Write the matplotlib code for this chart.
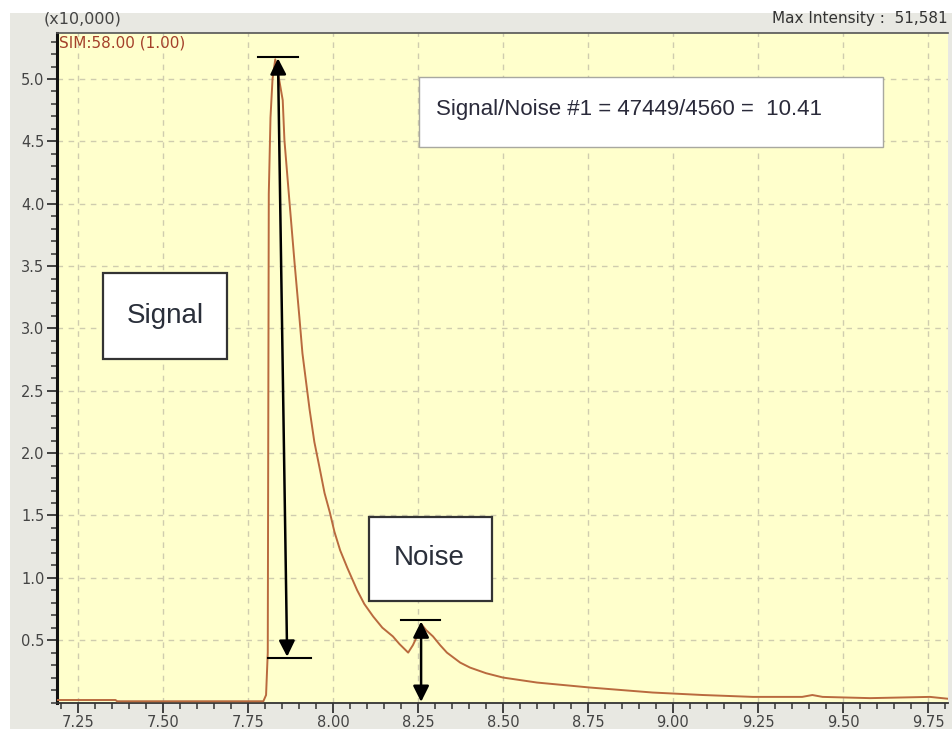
import matplotlib
matplotlib.use("Agg")
import matplotlib.pyplot as plt
from matplotlib.patches import Rectangle
from matplotlib.ticker import MultipleLocator, FixedLocator

# ---- data (retention time in min, intensity in x10,000 counts) ----
rt = [7.188, 7.36, 7.365, 7.795, 7.803, 7.808, 7.811, 7.816, 7.822, 7.830,
      7.838, 7.852, 7.857, 7.872, 7.887, 7.901, 7.910, 7.931, 7.945, 7.962,
      7.975, 7.991, 8.004, 8.021, 8.042, 8.071, 8.092, 8.118, 8.145, 8.176,
      8.195, 8.221, 8.235, 8.247, 8.259, 8.274, 8.294, 8.315, 8.335, 8.374,
      8.403, 8.45, 8.50, 8.60, 8.756, 8.94, 9.088, 9.235, 9.38,
      9.41, 9.44, 9.58, 9.756, 9.809]
intensity = [0.02, 0.02, 0.01, 0.01, 0.06, 0.40, 4.08, 4.69, 5.00, 5.158,
             5.05, 4.83, 4.51, 4.01, 3.52, 3.09, 2.80, 2.35, 2.09, 1.86,
             1.68, 1.52, 1.37, 1.22, 1.08, 0.90, 0.79, 0.69, 0.60, 0.53,
             0.47, 0.40, 0.46, 0.53, 0.63, 0.58, 0.53, 0.46, 0.40, 0.32,
             0.28, 0.235, 0.20, 0.16, 0.12, 0.08, 0.06, 0.045, 0.045,
             0.06, 0.045, 0.035, 0.045, 0.03]

x_major = [7.25, 7.50, 7.75, 8.00, 8.25, 8.50, 8.75, 9.00, 9.25, 9.50, 9.75]
x_labels = ["7.25", "7.50", "7.75", "8.00", "8.25", "8.50", "8.75", "9.00", "9.25", "9.50", "9.75"]
y_major = [0.5, 1.0, 1.5, 2.0, 2.5, 3.0, 3.5, 4.0, 4.5, 5.0]
y_labels = ["0.5", "1.0", "1.5", "2.0", "2.5", "3.0", "3.5", "4.0", "4.5", "5.0"]

# signal / noise measurement marks
signal_x = [7.838, 7.865]          # arrow top / bottom x
signal_y = [5.176, 0.357]          # top bar / bottom bar level
signal_bar_top = [7.779, 7.897]
signal_bar_bottom = [7.809, 7.935]
noise_x = 8.259
noise_y = [0.66, 0.0]
noise_bar = [8.200, 8.315]

header_left = "(x10,000)"
trace_label = "SIM:58.00 (1.00)"
header_right = "Max Intensity :  51,581"
sn_text = "Signal/Noise #1 = 47449/4560 =  10.41"

# ---- figure ----
W, H = 952, 729
fig = plt.figure(figsize=(W / 100, H / 100), dpi=100, facecolor="white")
fig.patches.append(Rectangle((10 / W, 0), 1 - 10 / W, 1 - 13 / H,
                             transform=fig.transFigure, facecolor="#E8E8E2",
                             edgecolor="none", zorder=-5))

ax = fig.add_axes([57 / W, 26.5 / H, (948 - 57) / W, (702.5 - 33) / H])
ax.set_zorder(1)
ax.set_facecolor("#FFFFCC")
ax.set_xlim(7.188, 9.809)
ax.set_ylim(0, 5.369)

ax.plot(rt, intensity, color="#B96A3E", lw=1.4, zorder=3)

# ticks and grid
ax.xaxis.set_major_locator(FixedLocator(x_major))
ax.set_xticklabels(x_labels)
ax.yaxis.set_major_locator(FixedLocator(y_major))
ax.set_yticklabels(y_labels)
ax.xaxis.set_minor_locator(MultipleLocator(0.05))
ax.yaxis.set_minor_locator(MultipleLocator(0.1))
ax.grid(True, which="major", color="#CFCCAE", lw=1.0, linestyle=(0, (4, 4)), zorder=1)
ax.tick_params(which="major", direction="out", length=7, width=1.3, color="#333333",
               labelsize=10.5, labelcolor="#444444", pad=2)
ax.tick_params(which="minor", direction="out", length=4, width=1.1, color="#333333")
ax.spines["left"].set_linewidth(2.2)
ax.spines["left"].set_color("#111111")
ax.spines["bottom"].set_linewidth(1.3)
ax.spines["bottom"].set_color("#333333")
ax.spines["top"].set_linewidth(1.2)
ax.spines["top"].set_color("#555555")
ax.spines["right"].set_visible(False)

# signal marks
ax.plot(signal_bar_top, [signal_y[0]] * 2, color="black", lw=1.5, zorder=4)
ax.plot(signal_bar_bottom, [signal_y[1]] * 2, color="black", lw=1.5, zorder=4)
ax.annotate("", xy=(signal_x[0], signal_y[0] - 0.01), xytext=(signal_x[1], signal_y[1] + 0.01),
            arrowprops=dict(arrowstyle="<|-|>", color="black", lw=1.8,
                            mutation_scale=24, shrinkA=0, shrinkB=0), zorder=5)
# noise marks
ax.plot(noise_bar, [noise_y[0]] * 2, color="black", lw=1.5, zorder=4)
ax.annotate("", xy=(noise_x, noise_y[0] - 0.01), xytext=(noise_x, noise_y[1] + 0.005),
            arrowprops=dict(arrowstyle="<|-|>", color="black", lw=1.8,
                            mutation_scale=24, shrinkA=0, shrinkB=0), zorder=5)

# boxes
def box(x0, y0, x1, y1, ec, lw):
    fig.patches.append(Rectangle((x0 / W, 1 - y1 / H), (x1 - x0) / W, (y1 - y0) / H,
                                 transform=fig.transFigure, facecolor="white",
                                 edgecolor=ec, lw=lw, zorder=6))

box(103, 273, 227, 359, "#333333", 1.6)
box(369, 517, 492, 601, "#333333", 1.6)
box(419, 77, 883, 147, "#A8A8A0", 1.0)
fig.text(165 / W, 1 - 316 / H, "Signal", fontsize=20, family="Liberation Sans",
         color="#2A2F3A", ha="center", va="center", zorder=7)
fig.text(429 / W, 1 - 558 / H, "Noise", fontsize=20, family="Liberation Sans",
         color="#2A2F3A", ha="center", va="center", zorder=7)
fig.text(436 / W, 1 - 110 / H, sn_text, fontsize=16, family="Liberation Sans",
         color="#2A2A3A", ha="left", va="center", zorder=7)

fig.text(44 / W, 1 - 19 / H, header_left, fontsize=11.5, color="#444444",
         ha="left", va="center", zorder=7)
fig.text(59 / W, 1 - 43 / H, trace_label, fontsize=11, color="#A4402A",
         ha="left", va="center", zorder=7)
fig.text(948 / W, 1 - 19 / H, header_right, fontsize=11, color="#333333",
         ha="right", va="center", zorder=7)

fig.savefig("out.png", dpi=100, facecolor=fig.get_facecolor())
